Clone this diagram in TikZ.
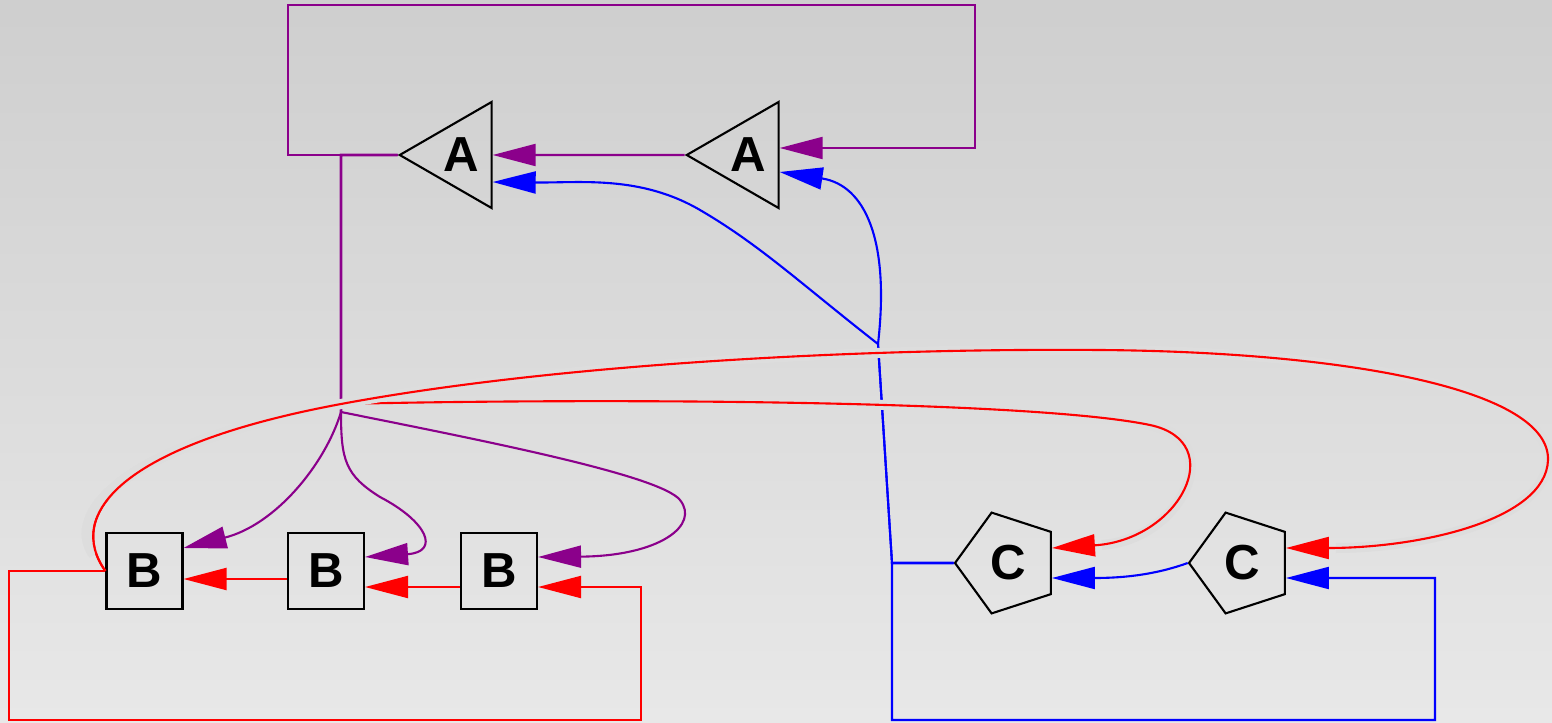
\documentclass[tikz,border=0pt]{standalone}
\usepackage{fontspec}
\setmainfont{Liberation Sans}
\usetikzlibrary{shapes.geometric,arrows.meta,calc}
\definecolor{fanpurple}{RGB}{139,0,139}
\definecolor{bgtop}{gray}{0.81}
\definecolor{bgbot}{gray}{0.91}
\definecolor{bgmid}{gray}{0.865}

\begin{document}
\begin{tikzpicture}[x=0.02cm, y=-0.02cm, line width=1.2pt,
  lbl/.style={font=\fontsize{28}{32}\selectfont\bfseries},
  tri/.style={lbl, draw, regular polygon, regular polygon sides=3, shape border rotate=90, minimum size=2.45cm, inner sep=0pt},
  pent/.style={lbl, draw, regular polygon, regular polygon sides=5, shape border rotate=90, minimum size=2.12cm, inner sep=0pt},
  box/.style={lbl, draw, minimum size=1.52cm, inner sep=0pt},
  arr/.style={-{Triangle[length=0.86cm,width=0.44cm]}},
  halo/.style={preaction={draw=bgmid, line width=0.2cm, -, shorten <=0.4cm, shorten >=1cm}}]

  % Background
  \useasboundingbox (0,0) rectangle (1552,723);
  \shade[top color=bgtop, bottom color=bgbot] (0,0) rectangle (1552,723);

  % Nodes
  \node[tri] (A1) at (461,155) {A};
  \node[tri] (A2) at (748,155) {A};
  \node[box] (B1) at (144.5,571) {B};
  \node[box] (B2) at (326,571) {B};
  \node[box] (B3) at (499,571) {B};
  \node[pent] (C1) at (1008,563) {C};
  \node[pent] (C2) at (1242,563) {C};

  % Bends and forks
  \coordinate (aloopL) at (288,5);
  \coordinate (aloopR) at (975,5);
  \coordinate (afork) at (341,412);
  \coordinate (bloopL) at (9,720);
  \coordinate (bloopR) at (641,720);
  \coordinate (bfork) at (341,404);
  \coordinate (cbend) at (892,563);
  \coordinate (cloop) at (1435,720);
  \coordinate (cfork) at (878,344);

  % A edges
  \draw[fanpurple, arr] (A2.west) -- (A1.east);
  \draw[fanpurple, arr] (A1.west) -| (aloopL) -- (aloopR) |- ($(A2.east)+(0,-7)$);
  \draw[fanpurple, arr] (A1.west) -| (afork) .. controls (325,465) and (275,525) .. ($(B1.east)+(0,-23)$);
  \draw[fanpurple, arr] (A1.west) -| (afork) .. controls (341,460) and (345,475) .. (380,497)
    .. controls (428,522) and (440,552) .. ($(B2.east)+(0,-14)$);
  \draw[fanpurple, arr] (A1.west) -| (afork) .. controls (480,440) and (660,475) .. (680,500)
    .. controls (700,525) and (660,556) .. ($(B3.east)+(0,-14)$);

  % C edges
  \draw[blue, arr] (C2.west) .. controls (1160,573) and (1130,578) .. ($(C1.east)+(0,15)$);
  \draw[blue, arr] (C1.west) -- (cbend) |- (cloop) |- ($(C2.east)+(0,15)$);
  \draw[blue, arr] (C1.west) -- (cbend) -- (cfork) .. controls (800,283) and (760,245) .. (700,210)
    .. controls (640,175) and (580,183) .. ($(A1.east)+(0,27)$);
  \draw[blue, arr] (C1.west) -- (cbend) -- (cfork) .. controls (890,240) and (865,185) .. ($(A2.east)+(0,17)$);

  % B edges
  \draw[red, arr] ($(B2.west)+(0,8)$) -- ($(B1.east)+(0,8)$);
  \draw[red, arr] ($(B3.west)+(0,16)$) -- ($(B2.east)+(0,16)$);
  \draw[red, arr] (B1.west) -| (bloopL) -- (bloopR) |- ($(B3.east)+(0,16)$);
  \draw[red, arr, halo] (B1.west) .. controls (65,515) and (120,445) .. (bfork)
    .. controls (600,398) and (1030,400) .. (1150,425)
    .. controls (1230,442) and (1180,540) .. ($(C1.east)+(0,-15)$);
  \draw[red, arr, halo] (B1.west) .. controls (65,515) and (120,445) .. (bfork)
    .. controls (550,365) and (850,348) .. (1100,350)
    .. controls (1350,352) and (1550,390) .. (1548,460)
    .. controls (1546,520) and (1420,548) .. ($(C2.east)+(0,-15)$);
\end{tikzpicture}
\end{document}
